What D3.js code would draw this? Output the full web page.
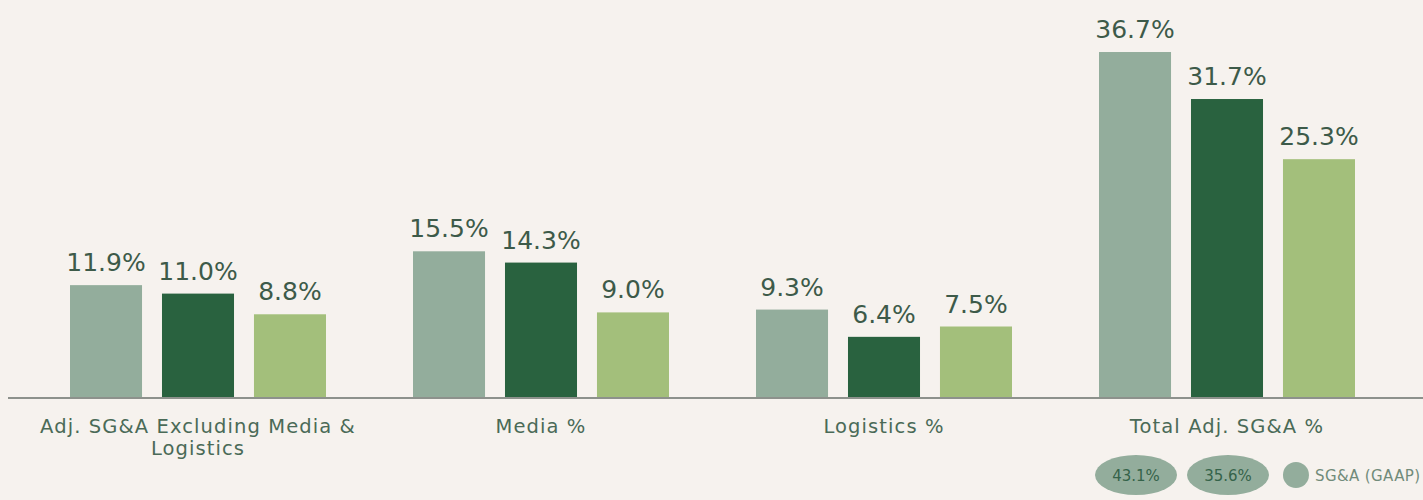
<!DOCTYPE html>
<html>
<head>
<meta charset="utf-8">
<script src="https://cdn.jsdelivr.net/npm/d3@7"></script>
<style>
  html, body { margin: 0; padding: 0; background: #f6f2ee; }
  svg { display: block; font-family: "DejaVu Sans", sans-serif; }
</style>
</head>
<body>
<svg id="chart" width="1423" height="500"></svg>
<script>
// Expense ratios by category, three periods
const categories = ["Adj. SG&A Excluding Media & Logistics", "Media %", "Logistics %", "Total Adj. SG&A %"];
const seriesKeys = ["p1", "p2", "p3"];
const valuesP1 = [11.9, 15.5, 9.3, 36.7];
const valuesP2 = [11.0, 14.3, 6.4, 31.7];
const valuesP3 = [8.8, 9.0, 7.5, 25.3];
// GAAP SG&A shown under the total group
const gaapValues = [43.1, 35.6];
const gaapLabel = "SG&A (GAAP)";

const colors = { p1: "#93ad9c", p2: "#29623f", p3: "#a3bf7b" };

const W = 1423, H = 500;
const svg = d3.select("#chart");
svg.append("rect").attr("width", W).attr("height", H).attr("fill", "#f6f2ee");

const seriesValues = { p1: valuesP1, p2: valuesP2, p3: valuesP3 };
const rows = categories.map((c, i) => ({
  category: c,
  items: seriesKeys.map(k => ({ key: k, value: seriesValues[k][i] }))
}));

const x0 = d3.scaleBand().domain(categories).range([26.5, 1398.5]).paddingInner(0).paddingOuter(0);
const x1 = d3.scaleBand().domain(seriesKeys).range([0, x0.bandwidth()]).paddingInner(0.217).paddingOuter(0.473);
const y = d3.scaleLinear().domain([0, 42]).range([397, 2.2]);

// Bars
const groups = svg.append("g").selectAll("g")
  .data(rows).join("g")
  .attr("transform", d => `translate(${x0(d.category)},0)`);

groups.selectAll("rect")
  .data(d => d.items).join("rect")
  .attr("x", d => x1(d.key))
  .attr("y", d => y(d.value))
  .attr("width", x1.bandwidth())
  .attr("height", d => y(0) - y(d.value))
  .attr("fill", d => colors[d.key]);

// Value labels
groups.selectAll("text.val")
  .data(d => d.items).join("text")
  .attr("class", "val")
  .attr("x", d => x1(d.key) + x1.bandwidth() / 2)
  .attr("y", d => y(d.value) - 14)
  .attr("text-anchor", "middle")
  .attr("font-size", 25)
  .attr("fill", "#3d5a49")
  .text(d => d.value.toFixed(1) + "%");

// Baseline
svg.append("line")
  .attr("x1", 8).attr("x2", W)
  .attr("y1", y(0) + 1).attr("y2", y(0) + 1)
  .attr("stroke", "#8d918c").attr("stroke-width", 2);

// Category axis
const axis = svg.append("g")
  .attr("transform", `translate(0,${y(0)})`)
  .call(d3.axisBottom(x0).tickSize(0).tickPadding(0));
axis.select(".domain").remove();
axis.selectAll("text")
  .attr("font-family", "DejaVu Sans, sans-serif")
  .attr("font-size", 19.5)
  .attr("letter-spacing", 1.1)
  .attr("fill", "#4a6a57")
  .attr("dy", 0)
  .attr("y", 36)
  .call(wrap, 335);

function wrap(sel, width) {
  sel.each(function () {
    const t = d3.select(this);
    const words = t.text().split(/\s+/);
    const yy = t.attr("y");
    t.text(null);
    let line = [];
    let lineNo = 0;
    let tspan = t.append("tspan").attr("x", 0).attr("y", yy);
    for (const w of words) {
      line.push(w);
      tspan.text(line.join(" "));
      if (tspan.node().getComputedTextLength() > width && line.length > 1) {
        line.pop();
        tspan.text(line.join(" "));
        line = [w];
        lineNo++;
        tspan = t.append("tspan").attr("x", 0).attr("y", +yy + lineNo * 22).text(w);
      }
    }
  });
}

// GAAP legend row under the total group
const lastCat = categories[categories.length - 1];
const gx = x0(lastCat);
const legend = svg.append("g").attr("transform", `translate(${gx},475)`);
legend.selectAll("ellipse")
  .data(gaapValues).join("ellipse")
  .attr("cx", (d, i) => x1(seriesKeys[i]) + x1.bandwidth() / 2 + 1)
  .attr("cy", 0)
  .attr("rx", 41).attr("ry", 20)
  .attr("fill", colors.p1);
legend.selectAll("text.g")
  .data(gaapValues).join("text")
  .attr("class", "g")
  .attr("x", (d, i) => x1(seriesKeys[i]) + x1.bandwidth() / 2 + 1)
  .attr("y", 6)
  .attr("text-anchor", "middle")
  .attr("font-size", 15)
  .attr("fill", "#35634a")
  .text(d => d.toFixed(1) + "%");
legend.append("circle")
  .attr("cx", x1(seriesKeys[2]) + 13)
  .attr("cy", 0)
  .attr("r", 13)
  .attr("fill", colors.p1);
legend.append("text")
  .attr("x", x1(seriesKeys[2]) + 32)
  .attr("y", 6)
  .attr("font-size", 15)
  .attr("letter-spacing", 0.4)
  .attr("fill", "#718b7a")
  .text(gaapLabel);
</script>
</body>
</html>
